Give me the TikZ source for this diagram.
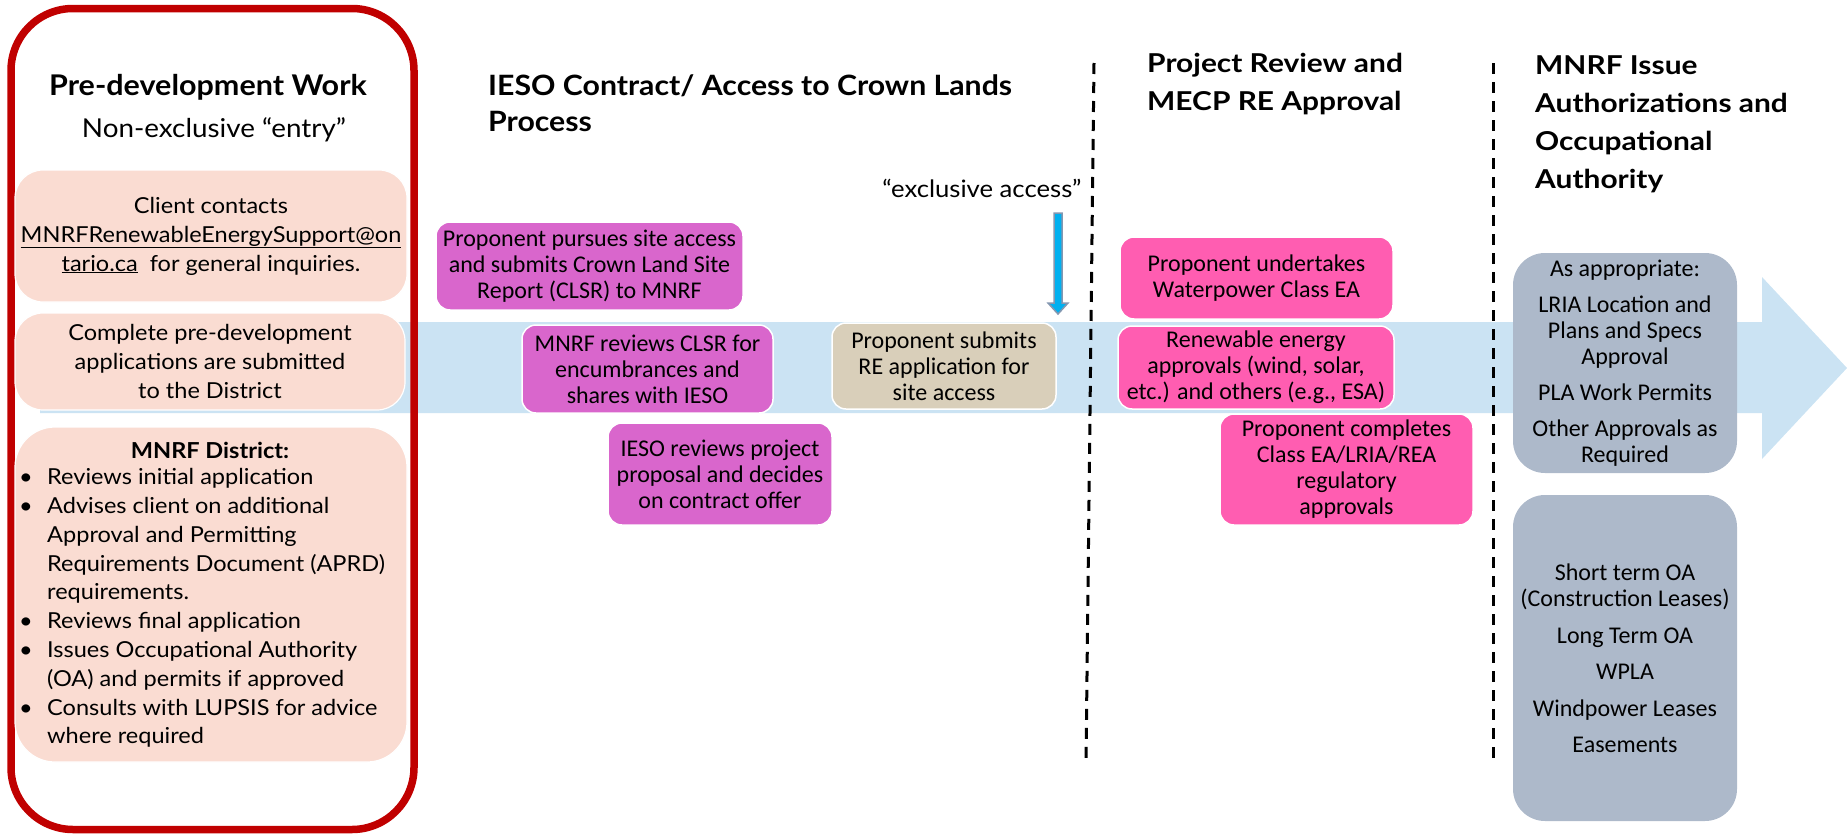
\documentclass[tikz,border=0pt]{standalone}
\usepackage{fontspec}
\setmainfont{Lato}[FakeStretch=1.07]
\newfontfamily\calfont{Carlito}
\newfontfamily\headfont{Lato}[FakeStretch=1.15]
\newfontfamily\iesofont{Lato}[FakeStretch=1.08]
\definecolor{redframe}{HTML}{C00000}
\definecolor{peach}{HTML}{FADCD2}
\definecolor{orchid}{HTML}{D966CC}
\definecolor{hotpink}{HTML}{FF5DB1}
\definecolor{tan}{HTML}{D9CFBA}
\definecolor{slate}{HTML}{ADB9CA}
\definecolor{band}{HTML}{CBE3F3}
\definecolor{skyblue}{HTML}{00B0F0}
\definecolor{arrowedge}{HTML}{8497B0}
\tikzset{
  frame/.style={draw=redframe, line width=7.5pt, rounded corners=62pt, inner sep=0pt},
  peachbox/.style={fill=peach, draw=white, line width=1.2pt, rounded corners=28pt, inner sep=0pt, align=center,
    font=\fontsize{22}{29}\selectfont},
  cbox/.style={draw=white, line width=1.5pt, rounded corners=14pt, inner sep=0pt, align=center,
    font=\calfont\fontsize{24}{26}\selectfont},
  orchidbox/.style={cbox, fill=orchid},
  pinkbox/.style={cbox, fill=hotpink},
  tanbox/.style={cbox, fill=tan},
  slatebox/.style={cbox, fill=slate, draw=none, rounded corners=32pt},
  heading/.style={inner sep=0pt, align=left, anchor=west, font=\headfont\bfseries\fontsize{26}{38}\selectfont},
  divider/.style={draw=black, line width=3pt, dash pattern=on 11pt off 8pt},
  plain/.style={inner sep=0pt, align=center}
}
\newcommand{\bul}{\makebox[28pt][l]{\textbullet}}
\newcommand{\cont}{\hspace*{28pt}}
\begin{document}
\begin{tikzpicture}[x=1pt,y=-1pt]
\useasboundingbox (0,0) rectangle (1847,835);
% big background arrow
\fill[band] (40,322) -- (1762,322) -- (1762,277) -- (1847,368) -- (1762,459) -- (1762,413) -- (40,413) -- cycle;

% left panel
\node[frame, minimum width=403pt, minimum height=821pt] (frame) at (212.5,419) {};
\node[plain, font=\bfseries\fontsize{28.5}{34}\selectfont] (pdtitle) at (208,87) {Pre-development Work};
\node[plain, font=\fontsize{26}{30}\selectfont] (pdsub) at (214,130) {Non-exclusive “entry”};
\node[peachbox, minimum width=392pt, minimum height=132pt] (client) at (211,236)
  {Client contacts\\ \underline{MNRFRenewableEnergySupport@on}\\ \underline{tario.ca}\ \ for general inquiries.};
\node[peachbox, minimum width=390pt, minimum height=97pt] (complete) at (210,361.5)
  {Complete pre-development\\ applications are submitted\\ to the District};
\node[peachbox, minimum width=392pt, minimum height=335pt, rounded corners=40pt] (district) at (211,594.5) {};
\node[plain, font=\bfseries\fontsize{22}{28.8}\selectfont] (disttitle) at (210,450) {MNRF District:};
\node[inner sep=0pt, align=left, anchor=west, font=\fontsize{22}{28.8}\selectfont] (distlist) at (19,608)
  {\bul Reviews initial application\\
   \bul Advises client on additional\\
   \cont Approval and Permitting\\
   \cont Requirements Document (APRD)\\
   \cont requirements.\\
   \bul Reviews final application\\
   \bul Issues Occupational Authority\\
   \cont (OA) and permits if approved\\
   \bul Consults with LUPSIS for advice\\
   \cont where required};

% IESO section
\node[heading, font=\iesofont\bfseries\fontsize{28}{36}\selectfont] (iesohead) at (488,103)
  {IESO Contract/ Access to Crown Lands\\ Process};
\node[plain, font=\fontsize{24}{28}\selectfont] (exclusive) at (982,188) {“exclusive access”};
\node[orchidbox, minimum width=307pt, minimum height=88pt] (pursue) at (589.5,266)
  {Proponent pursues site access\\ and submits Crown Land Site\\ Report (CLSR) to MNRF};
\node[orchidbox, minimum width=251pt, minimum height=88pt] (review) at (647.5,369)
  {MNRF reviews CLSR for\\ encumbrances and\\ shares with IESO};
\node[orchidbox, minimum width=224pt, minimum height=102pt] (ieso) at (720,474)
  {IESO reviews project\\ proposal and decides\\ on contract offer};
\node[tanbox, minimum width=224pt, minimum height=86pt] (submit) at (944,366)
  {Proponent submits\\ RE application for\\ site access};
% exclusive access arrow
\filldraw[fill=skyblue, draw=arrowedge, line width=1.5pt]
  (1054,213) -- (1062,213) -- (1062,303) -- (1068,303) -- (1058,314) -- (1048,303) -- (1054,303) -- cycle;

% dividers
\coordinate (d1t) at (1094,63);
\coordinate (d1b) at (1086,762);
\coordinate (d2t) at (1493,63);
\coordinate (d2b) at (1493,762);
\draw[divider] (d1t) -- (d1b);
\draw[divider] (d2t) -- (d2b);

% project review section
\node[heading] (prhead) at (1147,84) {Project Review and\\ MECP RE Approval};
\node[pinkbox, minimum width=273pt, minimum height=82pt] (water) at (1256.5,278)
  {Proponent undertakes\\ Waterpower Class EA};
\node[pinkbox, minimum width=276pt, minimum height=83pt] (renew) at (1256,367.5)
  {Renewable energy\\ approvals (wind, solar,\\ etc.) and others (e.g., ESA)};
\node[pinkbox, minimum width=253pt, minimum height=111pt] (completes) at (1346.5,469.5)
  {Proponent completes\\ Class EA/LRIA/REA\\ regulatory\\ approvals};

% MNRF authorizations section
\node[heading] (mnrfhead) at (1535,124.5) {MNRF Issue\\ Authorizations and\\ Occupational\\ Authority};
\node[slatebox, minimum width=224pt, minimum height=220pt] (approp) at (1625,363)
  {As appropriate:\\[10pt] LRIA Location and\\ Plans and Specs\\ Approval\\[10pt] PLA Work Permits\\[10pt] Other Approvals as\\ Required};
\node[slatebox, minimum width=224pt, minimum height=326pt] (leases) at (1625,658)
  {Short term OA\\ (Construction Leases)\\[11pt] Long Term OA\\[10pt] WPLA\\[11pt] Windpower Leases\\[10pt] Easements};
\end{tikzpicture}
\end{document}
